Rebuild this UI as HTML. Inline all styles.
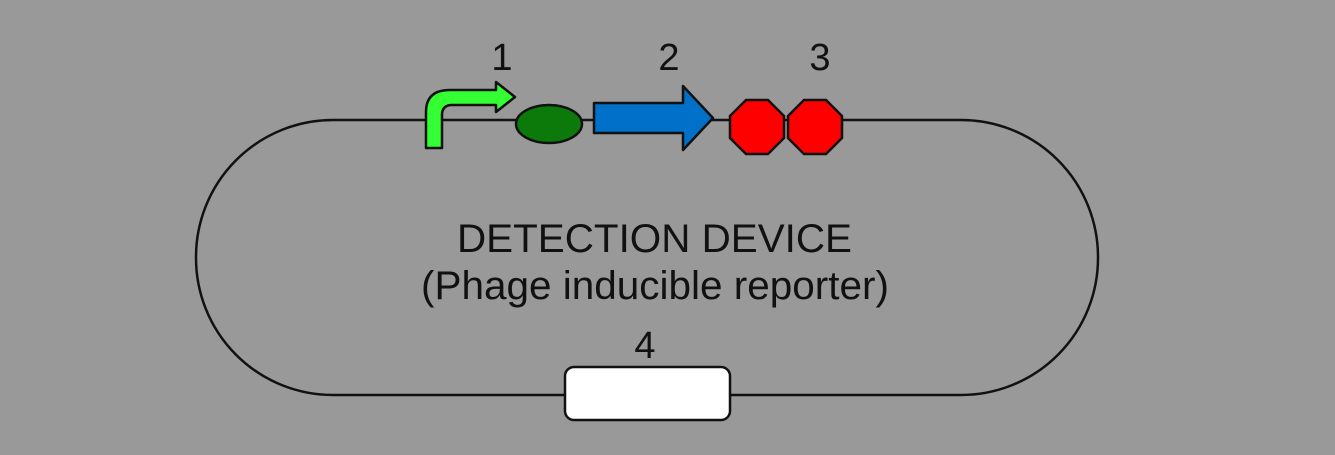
<!DOCTYPE html>
<html><head><meta charset="utf-8">
<style>
html,body{margin:0;padding:0;background:#999999;}
svg{display:block;}
text{font-family:"Liberation Sans",sans-serif;fill:#111;}
</style></head>
<body>
<svg width="1335" height="455" viewBox="0 0 1335 455">
  <rect x="0" y="0" width="1335" height="455" fill="#999999"/>
  <rect x="196" y="120" width="902" height="275" rx="137" ry="137" fill="none" stroke="#111" stroke-width="2.5"/>

  <path d="M426,148 L426,112 Q426,90 450,90 L496,90 L496,82 L515,97 L496,112 L496,105 L452,105 Q442,105 442,115 L442,148 Z" fill="#33ff33" stroke="#111" stroke-width="2.5" stroke-linejoin="round"/>

  <ellipse cx="549" cy="124" rx="33" ry="19" fill="#0b7a0b" stroke="#111" stroke-width="2.5"/>

  <path d="M594,103 L683,103 L683,86 L713,118 L683,150 L683,133 L594,133 Z" fill="#0070c8" stroke="#111" stroke-width="2.5" stroke-linejoin="round"/>

  <polygon points="746,100 768,100 784,116 784,138 768,154 746,154 730,138 730,116" fill="#ff0000" stroke="#111" stroke-width="2.5"/>
  <polygon points="804,100 826,100 842,116 842,138 826,154 804,154 788,138 788,116" fill="#ff0000" stroke="#111" stroke-width="2.5"/>

  <rect x="565" y="367" width="165" height="53" rx="9" ry="9" fill="#ffffff" stroke="#111" stroke-width="2.5"/>

  <text x="502" y="70" font-size="38" text-anchor="middle">1</text>
  <text x="669" y="70" font-size="38" text-anchor="middle">2</text>
  <text x="820" y="70" font-size="38" text-anchor="middle">3</text>
  <text x="645" y="358" font-size="38" text-anchor="middle">4</text>

  <text x="457" y="252" font-size="40" textLength="395" lengthAdjust="spacingAndGlyphs">DETECTION DEVICE</text>
  <text x="421" y="299" font-size="40" textLength="468" lengthAdjust="spacingAndGlyphs">(Phage inducible reporter)</text>
</svg>
</body></html>
